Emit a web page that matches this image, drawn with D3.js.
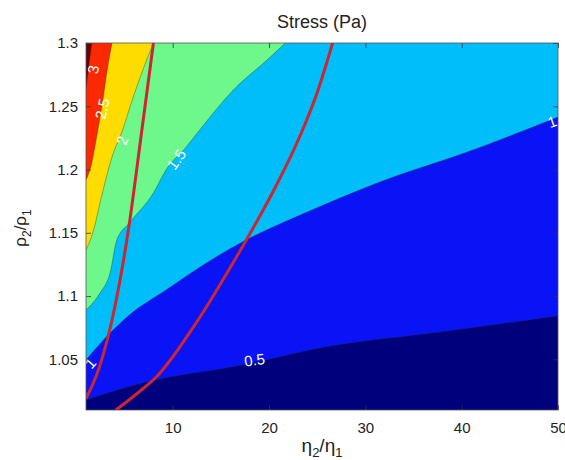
<!DOCTYPE html>
<html>
<head>
<meta charset="utf-8">
<script src="https://cdn.jsdelivr.net/npm/d3@7"></script>
<style>
  body { margin: 0; background: #fff; }
  text { font-family: "Liberation Sans", Arial, sans-serif; }
</style>
</head>
<body>
<div id="chart_div"></div>
<script>
// contour lines, [eta2/eta1, rho2/rho1], left edge -> top/right edge
var levels = [0.5, 1, 1.5, 2, 2.5, 3];
var contour_05 = [[1, 1.018], [7.2, 1.032], [17.3, 1.0456], [25.9, 1.0598], [37.8, 1.0716], [50, 1.0843]];
var contour_10 = [[1, 1.0495], [3.1, 1.0677], [5.5, 1.0851], [9.3, 1.1048], [13.5, 1.1262], [17.6, 1.1443],
                  [21.8, 1.1593], [25.9, 1.1728], [31.5, 1.1902], [40.6, 1.2139], [50, 1.2415]];
var contour_15 = [[1, 1.089], [2.45, 1.1024], [3.5, 1.1183], [4.2, 1.1443], [5.5, 1.1578], [8.0, 1.1815],
                  [9.3, 1.1996], [11.4, 1.2178], [12.8, 1.2313], [16.3, 1.2629], [19.8, 1.2866], [21.7, 1.3]];
var contour_20 = [[1, 1.1364], [1.7, 1.1499], [2.6, 1.1783], [3.7, 1.2099], [4.8, 1.2313], [5.9, 1.2573],
                  [6.9, 1.2787], [8.0, 1.3]];
var contour_25 = [[1, 1.1917], [1.6, 1.2052], [2.1, 1.2257], [2.7, 1.2526], [3.2, 1.2787], [3.7, 1.3]];
var contour_30 = [[1, 1.2644], [1.3, 1.2826], [1.6, 1.3]];
var contours = [contour_05, contour_10, contour_15, contour_20, contour_25, contour_30];

// the two red curves
var curve_a = [[1, 1.019], [2.1, 1.0377], [3.2, 1.0653], [4.2, 1.0993], [5.4, 1.1522],
               [6.8, 1.2313], [8.0, 1.3]];
var curve_b = [[4.1, 1.01], [5.46, 1.0179], [7.0, 1.0274], [8.3, 1.0361], [10.0, 1.0519], [11.8, 1.0716],
               [13.7, 1.0938], [15.7, 1.119], [18.0, 1.1491], [20.4, 1.1823], [22.8, 1.2194],
               [24.8, 1.2565], [26.6, 1.3]];

// contour labels: text, eta, rho, angle
var label_text = ["3", "2.5", "2", "1.5", "1", "1", "0.5"];
var label_x = [1.75, 2.7, 4.75, 10.4, 49.4, 1.45, 18.5];
var label_y = [1.279, 1.248, 1.223, 1.208, 1.2376, 1.047, 1.0495];
var label_angle = [-80, -78, -70, -55, -20, -48, -8];

var x_ticks = [10, 20, 30, 40, 50];
var y_ticks = [1.05, 1.1, 1.15, 1.2, 1.25, 1.3];

var colors = ["#00007d", "#0a12f6", "#00befa", "#6ef78a", "#ffdc00", "#fb2800", "#6a0000"];

var width = 565, height = 460;
var x = d3.scaleLinear().domain([1, 50]).range([86, 558]);
var y = d3.scaleLinear().domain([1.01, 1.3]).range([410, 43]);

drawChart();

function drawChart() {
    var svg = d3.select("#chart_div").append("svg")
        .attr("width", width)
        .attr("height", height);

    svg.append("clipPath")
        .attr("id", "plot_clip")
      .append("rect")
        .attr("x", x(1))
        .attr("y", y(1.3))
        .attr("width", x(50) - x(1))
        .attr("height", y(1.01) - y(1.3));

    var plot = svg.append("g").attr("clip-path", "url(#plot_clip)");

    // lowest band fills everything, every level paints the area above its contour
    plot.append("rect")
        .attr("x", x(1))
        .attr("y", y(1.3))
        .attr("width", x(50) - x(1))
        .attr("height", y(1.01) - y(1.3))
        .attr("fill", colors[0]);

    var area = d3.area()
        .x(function(d) { return x(d[0]); })
        .y0(y(1.3))
        .y1(function(d) { return y(d[1]); })
        .curve(d3.curveMonotoneX);

    var line = d3.line()
        .x(function(d) { return x(d[0]); })
        .y(function(d) { return y(d[1]); })
        .curve(d3.curveMonotoneX);

    plot.selectAll(".band")
      .data(contours)
      .enter()
      .append("path")
        .attr("class", "band")
        .attr("d", area)
        .attr("fill", function(d, i) { return colors[i + 1]; });

    plot.selectAll(".contour_line")
      .data(contours)
      .enter()
      .append("path")
        .attr("class", "contour_line")
        .attr("d", line)
        .attr("fill", "none")
        .attr("stroke", "#143214")
        .attr("stroke-opacity", 0.45)
        .attr("stroke-width", 0.8);

    var curve_line = d3.line()
        .x(function(d) { return x(d[0]); })
        .y(function(d) { return y(d[1]); })
        .curve(d3.curveCatmullRom);

    plot.selectAll(".red_curve")
      .data([curve_a, curve_b])
      .enter()
      .append("path")
        .attr("class", "red_curve")
        .attr("d", curve_line)
        .attr("fill", "none")
        .attr("stroke", "#cc2630")
        .attr("stroke-width", 3);

    plot.selectAll(".clabel")
      .data(label_text)
      .enter()
      .append("text")
        .attr("class", "clabel")
        .attr("transform", function(d, i) {
          return "translate(" + x(label_x[i]) + "," + y(label_y[i]) + ") rotate(" + label_angle[i] + ")"; })
        .attr("text-anchor", "middle")
        .attr("dy", "0.35em")
        .attr("fill", "#fff")
        .style("font-size", "15px")
        .text(function(d) { return d; });

    drawAxes(svg);
}

function drawAxes(svg) {
    var bottom = svg.append("g")
        .attr("transform", "translate(0," + y(1.01) + ")")
        .call(d3.axisBottom(x).tickValues(x_ticks).tickSize(-5).tickPadding(12));
    var left = svg.append("g")
        .attr("transform", "translate(" + x(1) + ",0)")
        .call(d3.axisLeft(y).tickValues(y_ticks).tickSize(-5).tickPadding(8)
              .tickFormat(function(d) { return d3.format("")(+d.toFixed(2)); }));
    var top = svg.append("g")
        .attr("transform", "translate(0," + y(1.3) + ")")
        .call(d3.axisTop(x).tickValues(x_ticks).tickSize(-5).tickFormat(""));
    var right = svg.append("g")
        .attr("transform", "translate(" + x(50) + ",0)")
        .call(d3.axisRight(y).tickValues(y_ticks).tickSize(-5).tickFormat(""));

    [bottom, left, top, right].forEach(function(g) {
        g.select(".domain").remove();
        g.selectAll("line").attr("stroke", "#333").attr("stroke-width", 0.8);
        g.selectAll("text")
          .attr("fill", "#222")
          .style("font-size", "15px")
          .style("font-family", "'Liberation Sans', Arial, sans-serif");
    });

    svg.append("rect")
        .attr("x", x(1))
        .attr("y", y(1.3))
        .attr("width", x(50) - x(1))
        .attr("height", y(1.01) - y(1.3))
        .attr("fill", "none")
        .attr("stroke", "#555")
        .attr("stroke-width", 0.8);

    svg.append("text")
        .attr("x", (x(1) + x(50)) / 2)
        .attr("y", 28)
        .attr("text-anchor", "middle")
        .attr("fill", "#222")
        .style("font-size", "18px")
        .text("Stress (Pa)");

    var xlabel = svg.append("text")
        .attr("x", (x(1) + x(50)) / 2)
        .attr("y", 452)
        .attr("text-anchor", "middle")
        .attr("fill", "#222")
        .style("font-size", "19px");
    xlabel.append("tspan").text("η");
    xlabel.append("tspan").attr("dy", 5).style("font-size", "13px").text("2");
    xlabel.append("tspan").attr("dy", -5).text("/η");
    xlabel.append("tspan").attr("dy", 5).style("font-size", "13px").text("1");

    var ylabel = svg.append("text")
        .attr("transform", "translate(26,228) rotate(-90)")
        .attr("text-anchor", "middle")
        .attr("fill", "#222")
        .style("font-size", "17px");
    ylabel.append("tspan").text("ρ");
    ylabel.append("tspan").attr("dy", 5).style("font-size", "12px").text("2");
    ylabel.append("tspan").attr("dy", -5).text("/ρ");
    ylabel.append("tspan").attr("dy", 5).style("font-size", "12px").text("1");
}
</script>
</body>
</html>
